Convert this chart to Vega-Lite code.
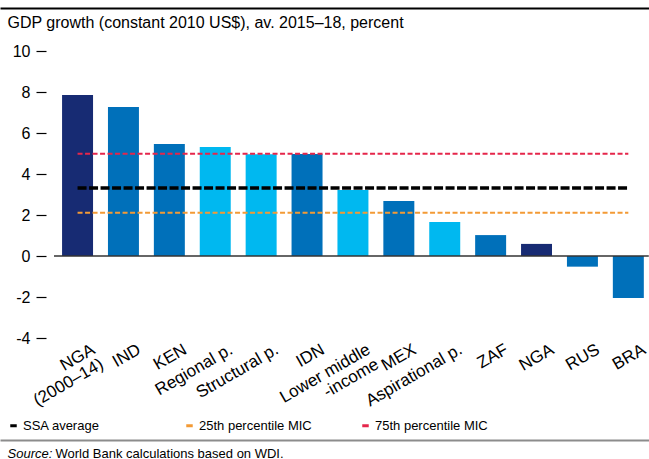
{
  "$schema": "https://vega.github.io/schema/vega-lite/v6.json",
  "width": 649,
  "height": 287,
  "autosize": {"type": "none"},
  "padding": {"top": 51, "left": 0, "right": 0, "bottom": 121},
  "background": "white",
  "config": {
    "view": {"stroke": null},
    "font": "Liberation Sans",
    "axis": {"labelColor": "#000", "titleColor": "#000", "labelFont": "Liberation Sans", "titleFont": "Liberation Sans", "grid": false},
    "legend": {"labelFont": "Liberation Sans", "labelColor": "#000"}
  },
  "datasets": {
    "bars": [
      {"label": "NGA|(2000–14)", "value": 7.85, "group": "focus"},
      {"label": "IND", "value": 7.27, "group": "country"},
      {"label": "KEN", "value": 5.46, "group": "country"},
      {"label": "Regional p.", "value": 5.32, "group": "peer"},
      {"label": "Structural p.", "value": 4.96, "group": "peer"},
      {"label": "IDN", "value": 4.98, "group": "country"},
      {"label": "Lower middle|-income", "value": 3.22, "group": "peer"},
      {"label": "MEX", "value": 2.68, "group": "country"},
      {"label": "Aspirational p.", "value": 1.66, "group": "peer"},
      {"label": "ZAF", "value": 1.02, "group": "country"},
      {"label": "NGA", "value": 0.59, "group": "focus"},
      {"label": "RUS", "value": -0.52, "group": "country"},
      {"label": "BRA", "value": -2.05, "group": "country"}
    ],
    "baseline": [
      {"from": "NGA|(2000–14)", "to": "BRA", "value": 0}
    ],
    "benchmarks": [
      {"series": "SSA average", "kind": "average", "from": "NGA|(2000–14)", "to": "BRA", "value": 3.32},
      {"series": "25th percentile MIC", "kind": "percentile", "from": "NGA|(2000–14)", "to": "BRA", "value": 2.11},
      {"series": "75th percentile MIC", "kind": "percentile", "from": "NGA|(2000–14)", "to": "BRA", "value": 4.99}
    ]
  },
  "layer": [
    {
      "data": {"name": "bars"},
      "mark": {"type": "bar"},
      "encoding": {
        "x": {
          "field": "label",
          "type": "nominal",
          "sort": null,
          "scale": {
            "domain": ["NGA|(2000–14)", "IND", "KEN", "Regional p.", "Structural p.", "IDN", "Lower middle|-income", "MEX", "Aspirational p.", "ZAF", "NGA", "RUS", "BRA"],
            "paddingInner": 0.325,
            "paddingOuter": 0.7325,
            "align": 0.923
          },
          "axis": {
            "orient": "bottom",
            "domain": false,
            "ticks": false,
            "labelAngle": -30,
            "labelAlign": "right",
            "labelBaseline": "top",
            "labelFontSize": 17,
            "labelPadding": 3,
            "labelOffset": 12,
            "labelLineHeight": 17,
            "labelLimit": 300,
            "labelExpr": "split(datum.label, '|')",
            "title": null
          }
        },
        "y": {
          "field": "value",
          "type": "quantitative",
          "scale": {"domain": [-4, 10], "nice": false, "zero": false},
          "axis": {
            "orient": "left",
            "offset": -46,
            "values": [-4, -2, 0, 2, 4, 6, 8, 10],
            "labelExpr": "datum.value + ''",
            "domain": false,
            "ticks": true,
            "tickSize": 10,
            "tickColor": "#000",
            "tickWidth": 1.2,
            "labelPadding": 6,
            "labelFontSize": 16,
            "title": "GDP growth (constant 2010 US$), av. 2015–18, percent",
            "titleAngle": 0,
            "titleAlign": "left",
            "titleBaseline": "alphabetic",
            "titleX": -39,
            "titleY": -24,
            "titleFontSize": 16,
            "titleFontWeight": "normal"
          }
        },
        "color": {
          "field": "group",
          "type": "nominal",
          "scale": {"domain": ["focus", "country", "peer"], "range": ["#172b73", "#0070ba", "#00b8f0"]},
          "legend": null
        }
      }
    },
    {
      "data": {"name": "baseline"},
      "mark": {"type": "rule", "color": "#333333", "strokeWidth": 1.5},
      "encoding": {
        "x": {
          "field": "from",
          "type": "nominal",
          "sort": null,
          "bandPosition": -0.26,
          "axis": {
            "orient": "top",
            "offset": 43,
            "domain": true,
            "domainColor": "#000",
            "domainWidth": 2,
            "ticks": false,
            "labels": false,
            "title": "World Bank calculations based on WDI.",
            "titleAngle": 0,
            "titleAlign": "left",
            "titleBaseline": "alphabetic",
            "titleX": 55,
            "titleY": 449,
            "titleFontSize": 13,
            "titleFontWeight": "normal"
          }
        },
        "x2": {"field": "to", "bandPosition": 1.16},
        "y": {"field": "value", "type": "quantitative", "axis": null}
      }
    },
    {
      "data": {"name": "benchmarks"},
      "mark": {"type": "rule"},
      "encoding": {
        "x": {
          "field": "from",
          "type": "nominal",
          "sort": null,
          "axis": {
            "orient": "bottom",
            "offset": 102,
            "domain": true,
            "domainColor": "#8c8c8c",
            "domainWidth": 2,
            "ticks": false,
            "labels": false,
            "title": "Source:",
            "titleFontStyle": "italic",
            "titleAngle": 0,
            "titleAlign": "left",
            "titleBaseline": "alphabetic",
            "titleX": 7,
            "titleY": 17,
            "titleFontSize": 13,
            "titleFontWeight": "normal"
          }
        },
        "x2": {"field": "to"},
        "y": {"field": "value", "type": "quantitative", "axis": null},
        "color": {
          "field": "series",
          "type": "nominal",
          "sort": null,
          "scale": {"domain": ["SSA average", "25th percentile MIC", "75th percentile MIC"], "range": ["#000000", "#f39a35", "#e5264b"]},
          "legend": null
        },
        "strokeWidth": {
          "field": "kind",
          "type": "nominal",
          "scale": {"domain": ["average", "percentile"], "range": [3.5, 2]},
          "legend": null
        },
        "strokeDash": {
          "field": "kind",
          "type": "nominal",
          "scale": {"domain": ["average", "percentile"], "range": [[9, 2.5], [5, 2.5]]},
          "legend": null
        }
      }
    },
    {
      "data": {"name": "benchmarks"},
      "mark": {"type": "rule", "strokeWidth": 3},
      "encoding": {
        "x": {"field": "from", "type": "nominal", "sort": null, "axis": null},
        "x2": {"field": "from"},
        "y": {"field": "value", "type": "quantitative", "axis": null},
        "color": {
          "field": "series",
          "type": "nominal",
          "sort": null,
          "scale": {"domain": ["SSA average", "25th percentile MIC", "75th percentile MIC"], "range": ["#000000", "#f39a35", "#e5264b"]},
          "legend": {
            "orient": "none",
            "legendX": 7,
            "legendY": 368,
            "direction": "horizontal",
            "columns": 3,
            "gridAlign": "all",
            "columnPadding": 44,
            "symbolType": "stroke",
            "symbolSize": 42,
            "symbolStrokeWidth": 3,
            "labelFontSize": 13,
            "labelOffset": 3,
            "title": null,
            "padding": 0
          }
        }
      }
    }
  ],
  "resolve": {"axis": {"x": "independent", "y": "independent"}, "scale": {"color": "independent"}}
}
